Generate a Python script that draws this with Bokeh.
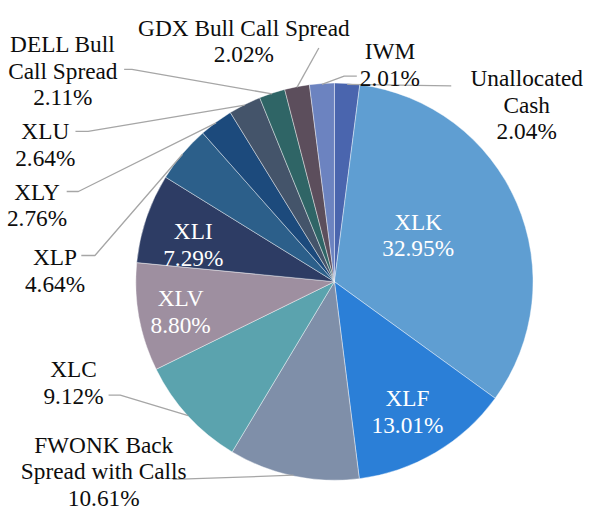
import math
from bokeh.plotting import figure
from bokeh.models import Range1d, ColumnDataSource
from bokeh.core.properties import value
from bokeh.embed import file_html
from bokeh.resources import INLINE

# ---- data (clockwise from 12 o'clock) ----
names = ["Unallocated Cash", "XLK", "XLF", "FWONK Back Spread with Calls", "XLC",
         "XLV", "XLI", "XLP", "XLY", "XLU", "DELL Bull Call Spread",
         "GDX Bull Call Spread", "IWM"]
shares = [2.04, 32.95, 13.01, 10.61, 9.12, 8.80, 7.29, 4.64, 2.76, 2.64, 2.11, 2.02, 2.01]
label_lines = [["Unallocated", "Cash"], ["XLK"], ["XLF"], ["FWONK Back", "Spread with Calls"],
               ["XLC"], ["XLV"], ["XLI"], ["XLP"], ["XLY"], ["XLU"], ["DELL Bull", "Call Spread"],
               ["GDX Bull Call Spread"], ["IWM"]]

# ---- styles ----
colors = ["#4a65ae", "#5f9ed2", "#2b7fd7", "#7f8fa9", "#5ba3ae", "#9e8fa0", "#2d3c64",
          "#2c5f8a", "#1c4a7c", "#44546a", "#2f6566", "#5c4e5c", "#6c83c0"]
inside = [False, True, True, False, False, True, True, False, False, False, False, False, False]

W, H = 589, 510          # figure size in pixels
RW, RH = 605, 526        # layout units (reference canvas)
FONT = "'Liberation Serif', 'Times New Roman', Times, 'DejaVu Serif', serif"
FS = "23.3px"
LH = 27.5


def sx(x):
    return x


def sy(y):
    return RH - y


CX, CY, R = sx(343), sy(290), 204

# label layout: (center x, first baseline y) in layout units
label_pos = [(540.5, 80), (429, 228), (418, 410), (106, 458), (75, 380), (185, 307),
             (198, 238), (56, 265), (37.5, 197), (46, 135), (64, 45), (250, 28), (400, 52)]
# leader line points (layout units), from label side toward the pie
leader_pts = [[(463, 88)], None, None, [(177, 494)], [(111, 407), (123, 407)], None, None,
              [(83, 263), (97, 263)], [(68, 197), (80, 197)], [(77, 135), (90, 135)],
              [(127, 71), (135, 71)], [(327, 49)], [(366, 78), (353, 78)]]

p = figure(width=W, height=H, output_backend="svg", toolbar_location=None,
           x_range=Range1d(0, RW), y_range=Range1d(0, RH), min_border=0,
           outline_line_color=None, background_fill_color="white",
           border_fill_color="white")
p.axis.visible = False
p.grid.visible = False

total = sum(shares)
starts, ends, mids = [], [], []
cum = 0.0
for s in shares:
    a1 = cum / total * 2 * math.pi
    cum += s
    a2 = cum / total * 2 * math.pi
    starts.append(math.pi / 2 - a2)
    ends.append(math.pi / 2 - a1)
    mids.append((a1 + a2) / 2)

src = ColumnDataSource(dict(start=starts, end=ends, color=colors, name=names, share=shares))
p.wedge(x=CX, y=CY, radius=R, start_angle="start", end_angle="end", direction="anticlock",
        fill_color="color", line_color="white", line_width=0.75, line_alpha=0.55, source=src)

# leader lines
for i, pts in enumerate(leader_pts):
    if pts is None:
        continue
    ex = CX + R * math.sin(mids[i])
    ey = CY + R * math.cos(mids[i])
    xs = [sx(a) for a, b in pts] + [ex]
    ys = [sy(b) for a, b in pts] + [ey]
    p.line(xs, ys, line_color="#a6a6a6", line_width=1.3)

# labels: one text glyph for outer (dark) labels and one for inner (white) labels
groups = {True: dict(x=[], y=[], text=[]), False: dict(x=[], y=[], text=[])}
for i in range(len(names)):
    lines = label_lines[i] + ["%.2f%%" % shares[i]]
    x0, y0 = label_pos[i]
    g = groups[inside[i]]
    for k, t in enumerate(lines):
        g["x"].append(sx(x0))
        g["y"].append(sy(y0 + k * LH))
        g["text"].append(t)

for is_in, g in groups.items():
    p.text(x="x", y="y", text="text", source=ColumnDataSource(g),
           text_color="white" if is_in else "#0d0d0d",
           text_font=value(FONT), text_font_size=FS,
           text_align="center", text_baseline="alphabetic")

open("out.html", "w").write(file_html(p, INLINE))
